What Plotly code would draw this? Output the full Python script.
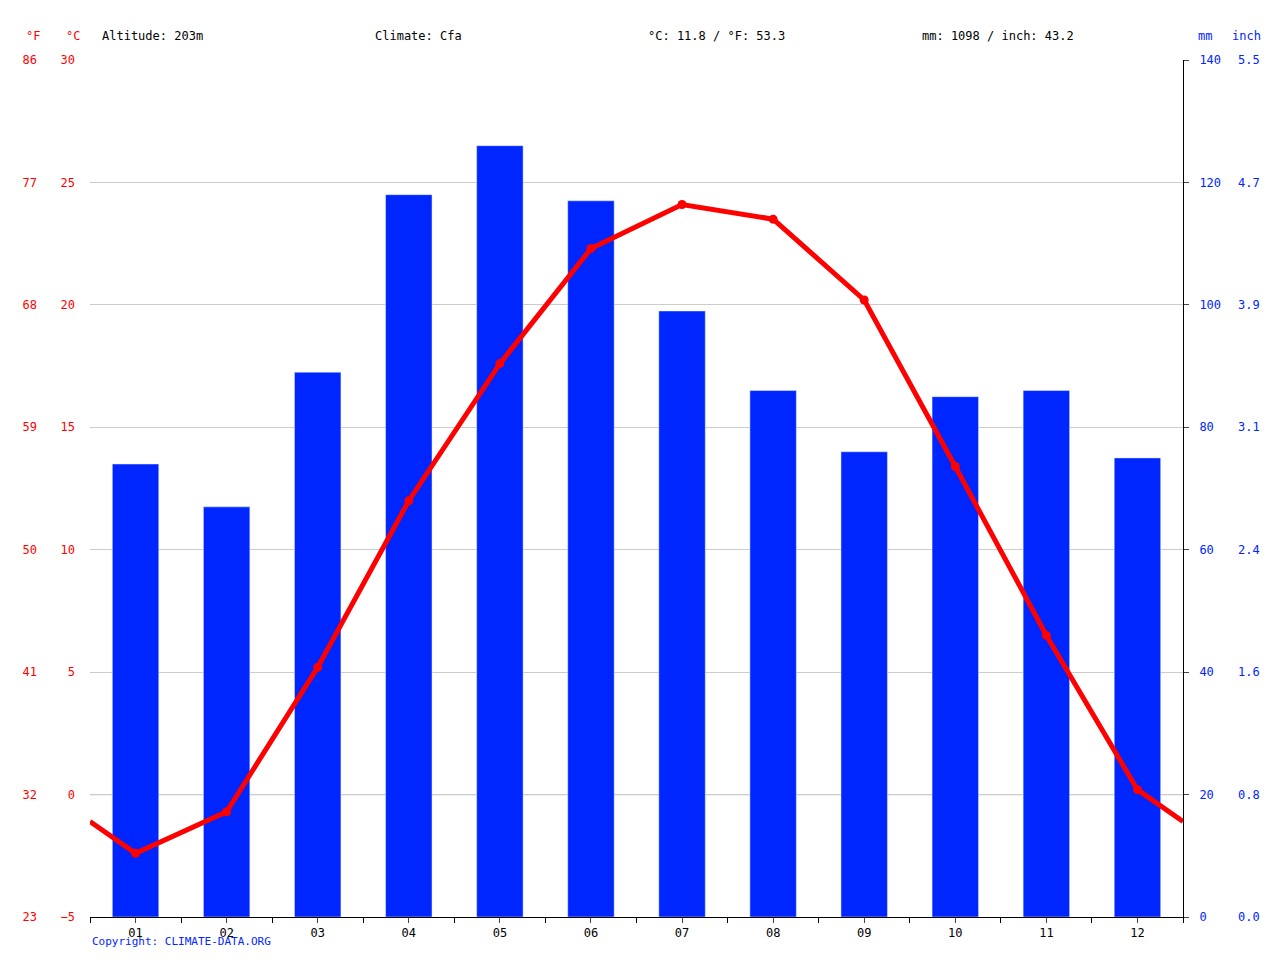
import plotly.graph_objects as go

months = ["01", "02", "03", "04", "05", "06", "07", "08", "09", "10", "11", "12"]
precip_mm = [74, 67, 89, 118, 126, 117, 99, 86, 76, 85, 86, 75]
temp_c = [-2.4, -0.7, 5.2, 12.0, 17.6, 22.3, 24.1, 23.5, 20.2, 13.4, 6.5, 0.2]

c_ticks = [-5, 0, 5, 10, 15, 20, 25, 30]
mm_ticks = [0, 20, 40, 60, 80, 100, 120, 140]

RED = "#ff0000"
BLUE = "#0026ff"
FONT = "DejaVu Sans Mono"

idx = list(range(1, 13))
edge = (temp_c[0] + temp_c[-1]) / 2
line_x = [0.5] + idx + [12.5]
line_y = [edge] + temp_c + [edge]

fig = go.Figure()
# bars on the base (mm) axis so the temperature line sits on top
fig.add_trace(go.Bar(x=idx, y=precip_mm, yaxis="y", marker_color=BLUE,
                     width=0.51, showlegend=False))
fig.add_trace(go.Scatter(x=[None], y=[None], yaxis="y4", showlegend=False))
fig.add_trace(go.Scatter(x=[None], y=[None], yaxis="y3", showlegend=False))
fig.add_trace(go.Scatter(x=line_x, y=line_y, mode="lines", yaxis="y2",
                         line=dict(color=RED, width=5), showlegend=False))
fig.add_trace(go.Scatter(x=idx, y=temp_c, mode="markers", yaxis="y2",
                         marker=dict(color=RED, size=9), showlegend=False))

fig.update_layout(
    width=1264, height=944, margin=dict(l=82, r=82, t=52, b=32),
    plot_bgcolor="white", paper_bgcolor="white", font=dict(family=FONT, size=12),
    xaxis=dict(range=[0.5, 12.5], tickvals=idx, ticktext=months, ticks="outside",
               ticklen=5, showgrid=False, showline=True, linecolor="black",
               tickfont=dict(color="black", size=12),
               minor=dict(tickvals=[i + 0.5 for i in range(0, 13)], ticks="outside",
                          ticklen=5, tickcolor="black")),
    yaxis=dict(range=[0, 140], tickvals=mm_ticks, side="right", anchor="x",
               showgrid=True, gridcolor="#cccccc", zeroline=False, showline=True,
               linecolor="black", ticks="outside", ticklen=5,
               tickfont=dict(color=BLUE, size=12), ticklabelstandoff=8),
    yaxis2=dict(range=[-5, 30], tickvals=c_ticks, overlaying="y", side="left",
                anchor="x", showgrid=False, zeroline=False,
                tickfont=dict(color=RED, size=12), ticklabelstandoff=14),
    yaxis3=dict(range=[-5, 30], tickvals=c_ticks,
                ticktext=[str(round(c * 9 / 5 + 32)) for c in c_ticks],
                overlaying="y", anchor="free", position=0, side="left",
                showgrid=False, zeroline=False, tickfont=dict(color=RED, size=12),
                ticklabelstandoff=53),
    yaxis4=dict(range=[0, 140], tickvals=mm_ticks,
                ticktext=[f"{m / 25.4:.1f}" for m in mm_ticks],
                overlaying="y", anchor="free", position=1, side="right",
                showgrid=False, zeroline=False, tickfont=dict(color=BLUE, size=12),
                ticklabelstandoff=54),
)
# 0 °C line drawn under the bars
fig.add_shape(type="line", xref="paper", x0=0, x1=1, yref="y2", y0=0, y1=0,
              line=dict(color="black", width=1), layer="below")

def px(x):
    return (x - 90) / 1100

headers = [(24, "°F", RED, "left"), (64, "°C", RED, "left"),
           (100, "Altitude: 203m", "black", "left"),
           (375, "Climate: Cfa", "black", "left"),
           (650, f"°C: {sum(temp_c) / 12:.1f} / °F: {sum(temp_c) / 12 * 9 / 5 + 32:.1f}", "black", "left"),
           (925, f"mm: {sum(precip_mm)} / inch: {sum(precip_mm) / 25.4:.1f}", "black", "left"),
           (1203, "mm", BLUE, "left"), (1271, "inch", BLUE, "right")]
for x, t, c, anc in headers:
    fig.add_annotation(x=px(x), y=1 + (60 - 36) / 860, xref="paper", yref="paper",
                       text=t, showarrow=False, xanchor=anc, yanchor="middle",
                       font=dict(family=FONT, size=12, color=c))
fig.add_annotation(x=0, y=-(945 - 920) / 860, xref="paper", yref="paper",
                   text="Copyright: CLIMATE-DATA.ORG", showarrow=False,
                   xanchor="left", yanchor="middle",
                   font=dict(family=FONT, size=11, color=BLUE))

fig.write_html("out.html")
